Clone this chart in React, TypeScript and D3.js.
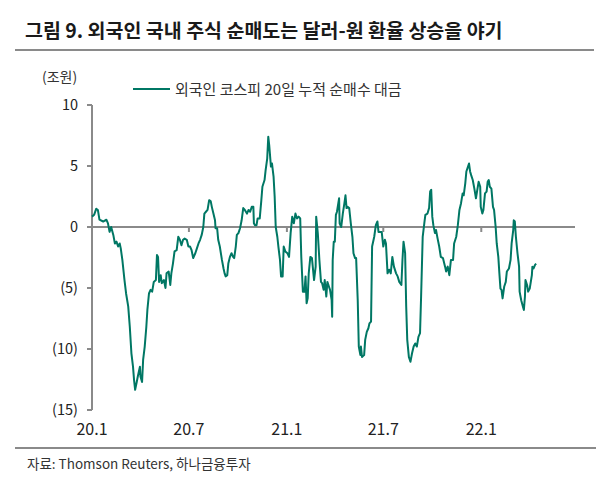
import * as d3 from "d3";

// 외국인 코스피 20일 누적 순매수 대금 (조원)
const dates: string[] = [
  "2020-01-01", "2020-01-05", "2020-01-09", "2020-01-12", "2020-01-15", "2020-01-22", "2020-01-28", "2020-01-31",
  "2020-02-03", "2020-02-06", "2020-02-10", "2020-02-13", "2020-02-16", "2020-02-19", "2020-02-22", "2020-02-24",
  "2020-02-27", "2020-03-02", "2020-03-05", "2020-03-09", "2020-03-12", "2020-03-15", "2020-03-18", "2020-03-20",
  "2020-03-22", "2020-03-25", "2020-03-27", "2020-03-31", "2020-04-01", "2020-04-04", "2020-04-06", "2020-04-09",
  "2020-04-12", "2020-04-14", "2020-04-17", "2020-04-20", "2020-04-23", "2020-04-26", "2020-04-30", "2020-05-02",
  "2020-05-04", "2020-05-06", "2020-05-09", "2020-05-11", "2020-05-15", "2020-05-18", "2020-05-20", "2020-05-24",
  "2020-05-27", "2020-05-29", "2020-06-01", "2020-06-04", "2020-06-08", "2020-06-11", "2020-06-14", "2020-06-17",
  "2020-06-20", "2020-06-23", "2020-06-27", "2020-06-30", "2020-07-03", "2020-07-06", "2020-07-09", "2020-07-13",
  "2020-07-16", "2020-07-19", "2020-07-22", "2020-07-25", "2020-07-28", "2020-07-30", "2020-08-02", "2020-08-05",
  "2020-08-08", "2020-08-11", "2020-08-13", "2020-08-16", "2020-08-19", "2020-08-20", "2020-08-23", "2020-08-25",
  "2020-08-28", "2020-09-01", "2020-09-04", "2020-09-06", "2020-09-08", "2020-09-11", "2020-09-13", "2020-09-16",
  "2020-09-19", "2020-09-22", "2020-09-24", "2020-09-27", "2020-09-29", "2020-10-02", "2020-10-05", "2020-10-08",
  "2020-10-11", "2020-10-14", "2020-10-18", "2020-10-21", "2020-10-24", "2020-10-27", "2020-10-30", "2020-10-31",
  "2020-11-02", "2020-11-05", "2020-11-07", "2020-11-11", "2020-11-14", "2020-11-16", "2020-11-20", "2020-11-22",
  "2020-11-25", "2020-11-27", "2020-11-29", "2020-12-02", "2020-12-04", "2020-12-07", "2020-12-09", "2020-12-11",
  "2020-12-14", "2020-12-16", "2020-12-19", "2020-12-21", "2020-12-24", "2020-12-26", "2020-12-29", "2021-01-02",
  "2021-01-05", "2021-01-08", "2021-01-11", "2021-01-14", "2021-01-17", "2021-01-20", "2021-01-23", "2021-01-26",
  "2021-01-28", "2021-01-31", "2021-02-03", "2021-02-05", "2021-02-07", "2021-02-09", "2021-02-11", "2021-02-14",
  "2021-02-17", "2021-02-21", "2021-02-24", "2021-02-25", "2021-02-28", "2021-03-03", "2021-03-06", "2021-03-08",
  "2021-03-11", "2021-03-13", "2021-03-16", "2021-03-18", "2021-03-21", "2021-03-23", "2021-03-26", "2021-03-27",
  "2021-03-28", "2021-03-30", "2021-04-01", "2021-04-03", "2021-04-05", "2021-04-09", "2021-04-10", "2021-04-13",
  "2021-04-16", "2021-04-19", "2021-04-21", "2021-04-23", "2021-04-25", "2021-04-28", "2021-05-01", "2021-05-04",
  "2021-05-06", "2021-05-09", "2021-05-11", "2021-05-14", "2021-05-16", "2021-05-19", "2021-05-20", "2021-05-22",
  "2021-05-26", "2021-05-28", "2021-05-31", "2021-06-03", "2021-06-05", "2021-06-08", "2021-06-10", "2021-06-14",
  "2021-06-17", "2021-06-20", "2021-06-22", "2021-06-25", "2021-06-28", "2021-07-01", "2021-07-04", "2021-07-06",
  "2021-07-09", "2021-07-12", "2021-07-15", "2021-07-18", "2021-07-21", "2021-07-25", "2021-07-28", "2021-07-31",
  "2021-08-04", "2021-08-06", "2021-08-08", "2021-08-11", "2021-08-13", "2021-08-15", "2021-08-18", "2021-08-21",
  "2021-08-24", "2021-08-27", "2021-08-30", "2021-09-02", "2021-09-05", "2021-09-08", "2021-09-10", "2021-09-13",
  "2021-09-16", "2021-09-18", "2021-09-22", "2021-09-25", "2021-09-27", "2021-09-29", "2021-10-01", "2021-10-03",
  "2021-10-06", "2021-10-08", "2021-10-11", "2021-10-14", "2021-10-17", "2021-10-21", "2021-10-25", "2021-10-27",
  "2021-10-30", "2021-11-02", "2021-11-05", "2021-11-09", "2021-11-11", "2021-11-15", "2021-11-18", "2021-11-21",
  "2021-11-24", "2021-11-27", "2021-11-29", "2021-12-02", "2021-12-04", "2021-12-06", "2021-12-09", "2021-12-11",
  "2021-12-13", "2021-12-16", "2021-12-19", "2021-12-22", "2021-12-24", "2021-12-27", "2021-12-30", "2021-12-31",
  "2022-01-03", "2022-01-05", "2022-01-08", "2022-01-11", "2022-01-13", "2022-01-15", "2022-01-17", "2022-01-20",
  "2022-01-23", "2022-01-25", "2022-01-28", "2022-01-30", "2022-02-02", "2022-02-04", "2022-02-06", "2022-02-08",
  "2022-02-10", "2022-02-13", "2022-02-16", "2022-02-18", "2022-02-22", "2022-02-25", "2022-02-27", "2022-03-02",
  "2022-03-03", "2022-03-05", "2022-03-07", "2022-03-10", "2022-03-13", "2022-03-14", "2022-03-17", "2022-03-20",
  "2022-03-22", "2022-03-24", "2022-03-25", "2022-03-28", "2022-03-30", "2022-04-02", "2022-04-06", "2022-04-07",
  "2022-04-09", "2022-04-12", "2022-04-14",
];

const netBuy: number[] = [
  0.85, 1.0, 1.5, 1.4, 0.6, 0.45, 0.6, 0.3,
  -0.4, 0, -0.65, -1.35, -1.2, -1.6, -1.35, -1.75,
  -2.7, -4.35, -5.45, -6.5, -8.2, -10.35, -11.45, -12.55,
  -13.35, -12.7, -12.25, -11.45, -12.25, -12.7, -10.9, -9.8,
  -8.2, -6.8, -5.45, -5.15, -5.3, -4.5, -4.35, -2.3,
  -2.45, -4.5, -3.95, -4.6, -4.35, -5.0, -3.8, -3.65,
  -4.75, -3.8, -3.0, -2.0, -1.9, -0.8, -1.05, -1.5,
  -1.05, -0.95, -1.05, -1.6, -1.6, -1.9, -2.55, -2.15,
  -1.75, -1.35, -1.05, -0.65, 0, 1.1, 1.25, 1.4,
  2.2, 2.1, 1.65, 1.1, 0.55, -0.1, -0.1, -1.05,
  -1.6, -2.7, -3.4, -3.8, -4.05, -3.95, -3.0, -2.45,
  -2.15, -2.45, -2.55, -1.6, -0.65, -0.5, -0.1, 0.55,
  1.55, 1.4, 1.1, 1.4, 1.25, 1.65, 1.65, 0.3,
  0.15, 0.15, 0.7, 0.7, 2.2, 3.3, 3.85, 4.65,
  5.6, 7.4, 6.6, 4.95, 5.2, 4.1, 2.5, 0,
  -0.8, -1.6, -2.7, -4.05, -4.05, -1.6, -2.0, -2.15,
  -2.45, -0.5, 0.85, 0.3, 1.1, 0.7, 0.85, 0.7,
  -2.45, -5.3, -5.3, -4.05, -6.25, -5.85, -3.8, -2.45,
  -2.55, -4.35, -3.25, 0.85, -0.5, -2.7, -4.5, -4.6,
  -5.15, -4.35, -5.7, -4.5, -4.9, -5.15, -6.0, -7.35,
  -2.7, -1.2, -1.2, 1.0, 1.25, 2.35, 0.3, 0,
  1.1, 1.95, 2.6, 1.55, 1.65, 1.55, 0.3, -0.8,
  -2.15, -2.55, -2.55, -6.0, -9.8, -10.5, -9.8, -10.65,
  -10.5, -9.25, -8.6, -8.3, -7.9, -7.75, -1.6, -0.8,
  0.15, 0.45, -0.4, -0.4, -0.4, -1.6, -1.05, -1.35,
  -3.8, -3.5, -3.8, -2.45, -3.25, -3.8, -4.05, -4.5,
  -4.75, -2.7, -1.2, -2.15, -6.5, -9.25, -10.65, -11.05,
  -10.35, -9.8, -9.55, -9.8, -9.0, -8.7, -5.7, -0.8,
  0.3, 1.0, 1.1, 1.55, 2.9, 3.05, 0.85, 0.15,
  -0.5, -0.25, -0.95, -1.6, -2.45, -2.55, -3.25, -3.65,
  -3.25, -3.95, -2.7, -2.7, -1.35, -0.8, 0.15, 1.4,
  1.95, 2.75, 2.6, 3.6, 4.55, 4.8, 5.2, 4.55,
  4.25, 3.85, 3.15, 2.35, 2.9, 3.7, 3.3, 1.65,
  1.1, 1.4, 2.75, 2.9, 3.7, 3.85, 3.3, 3.15,
  1.65, 1.4, 0, -1.35, -2.45, -3.8, -5.05, -5.15,
  -5.85, -4.9, -4.5, -3.65, -3.4, -2.7, -1.35, -0.25,
  0.55, 0.45, -0.8, -2.15, -3.25, -5.3, -6.0, -6.5,
  -6.8, -5.7, -4.35, -4.75, -5.3, -5.05, -3.95, -3.25,
  -3.4, -3.1, -3.0,
];

const yTicks = [10, 5, 0, -5, -10, -15];
const xTicks = ["2020-01-01", "2020-07-01", "2021-01-01", "2021-07-01", "2022-01-01"];
const xTickLabels = ["20.1", "20.7", "21.1", "21.7", "22.1"];

const title = "그림 9. 외국인 국내 주식 순매도는 달러-원 환율 상승을 야기";
const unitLabel = "(조원)";
const seriesName = "외국인 코스피 20일 누적 순매수 대금";
const source = "자료: Thomson Reuters, 하나금융투자";

const W = 608;
const H = 490;
const font = "'Noto Sans CJK KR', 'Noto Sans', sans-serif";
const lineColor = "#007764";
const axisColor = "#8a8a8a";

const parse = d3.timeParse("%Y-%m-%d");

export default function App() {
  const x = d3
    .scaleTime()
    .domain([parse("2020-01-01")!, parse("2022-06-26")!])
    .range([92, 575]);
  const y = d3.scaleLinear().domain([-15, 10]).range([410, 105]);

  const pts = dates.map((d, i) => [parse(d)!, netBuy[i]] as [Date, number]);
  const line = d3
    .line<[Date, number]>()
    .x((d) => x(d[0]))
    .y((d) => y(d[1]));

  const fmt = (v: number) => (v < 0 ? `(${Math.abs(v)})` : `${v}`);

  return (
    <svg
      width={W}
      height={H}
      style={{ position: "absolute", left: 0, top: 0, background: "#fff" }}
      fontFamily={font}
    >
      <text x={25} y={38} fontSize={19.5} fontWeight="bold" fill="#1a1a1a">
        {title}
      </text>
      <line x1={15} x2={594} y1={50} y2={50} stroke={axisColor} strokeWidth={2.2} />

      <text x={42} y={82} fontSize={14} fill="#333">
        {unitLabel}
      </text>

      <line x1={133} x2={170} y1={89} y2={89} stroke={lineColor} strokeWidth={2} />
      <text x={175} y={95} fontSize={15} fill="#333">
        {seriesName}
      </text>

      {/* y axis */}
      <line x1={x.range()[0]} x2={x.range()[0]} y1={y(10)} y2={y(-15)} stroke={axisColor} strokeWidth={2} />
      {yTicks.map((t) => (
        <g key={t}>
          <line x1={87} x2={92} y1={y(t)} y2={y(t)} stroke={axisColor} strokeWidth={2} />
          <text x={78} y={y(t)} dy="0.36em" textAnchor="end" fontSize={14.5} fill="#222">
            {fmt(t)}
          </text>
        </g>
      ))}

      {/* zero line + x ticks */}
      <line x1={x.range()[0]} x2={x.range()[1]} y1={y(0)} y2={y(0)} stroke={axisColor} strokeWidth={2} />
      {xTicks.map((t, i) => (
        <g key={t}>
          <line x1={x(parse(t)!)} x2={x(parse(t)!)} y1={y(0)} y2={y(0) + 5} stroke={axisColor} strokeWidth={2} />
          <text x={x(parse(t)!)} y={435} textAnchor="middle" fontSize={16} fill="#222">
            {xTickLabels[i]}
          </text>
        </g>
      ))}

      <path d={line(pts) ?? ""} fill="none" stroke={lineColor} strokeWidth={2} strokeLinejoin="round" />

      <line x1={15} x2={596} y1={448} y2={448} stroke={axisColor} strokeWidth={2.2} />
      <text x={27} y={469} fontSize={13.5} fill="#333">
        {source}
      </text>
    </svg>
  );
}
